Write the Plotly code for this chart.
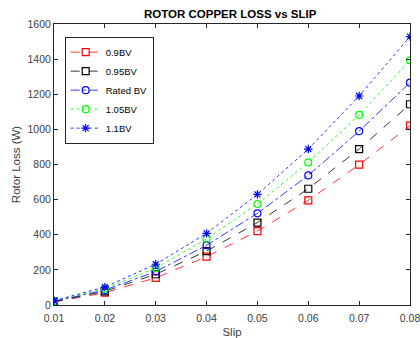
import plotly.graph_objects as go

slip = [0.01, 0.02, 0.03, 0.04, 0.05, 0.06, 0.07, 0.08]
loss_090 = [17, 70, 155, 275, 421, 596, 799, 1021]
loss_095 = [19, 78, 175, 307, 469, 662, 888, 1143]
loss_rated = [21, 85, 190, 340, 522, 738, 990, 1266]
loss_105 = [23, 93, 210, 376, 575, 812, 1082, 1393]
loss_110 = [25, 102, 232, 408, 630, 888, 1190, 1528]

series = [
    ("0.9BV", loss_090, "#ff0000", "dash", "square-open"),
    ("0.95BV", loss_095, "#000000", "dash", "square-open"),
    ("Rated BV", loss_rated, "#0000ff", "dashdot", "circle-open"),
    ("1.05BV", loss_105, "#00ff00", "dot", "circle-open"),
    ("1.1BV", loss_110, "#0000ff", "dot", "asterisk-open"),
]

fig = go.Figure()
for name, vals, col, dash, sym in series:
    fig.add_trace(go.Scatter(
        x=slip, y=vals, name=name, mode="lines+markers",
        line=dict(color=col, dash=dash, width=0.8),
        marker=dict(symbol=sym, size=7, color=col, line=dict(color=col, width=1.2)),
    ))

axis_common = dict(
    showgrid=False, zeroline=False, showline=True, linecolor="#262626", linewidth=1,
    mirror="ticks", ticks="inside", ticklen=4, tickcolor="#262626",
    tickfont=dict(size=10.5, color="#404040"), automargin=False,
    ticklabeloverflow="allow",
)

fig.update_layout(
    width=420, height=338,
    margin=dict(l=54, r=10, t=24, b=33),
    paper_bgcolor="white", plot_bgcolor="white",
    font=dict(family="Liberation Sans, Arial, sans-serif", color="#262626"),
    title=dict(text="<b>ROTOR COPPER LOSS vs SLIP</b>", x=0.548, xanchor="center",
               y=0.958, yanchor="middle", font=dict(size=11.5, color="#000000")),
    xaxis=dict(range=[0.01, 0.08], tickvals=slip,
               ticktext=["0.01", "0.02", "0.03", "0.04", "0.05", "0.06", "0.07", "0.08"],
               ticklabelstandoff=3,
               title=dict(text="Slip", font=dict(size=11.5, color="#404040"), standoff=6), **axis_common),
    yaxis=dict(range=[0, 1600], dtick=200,
               title=dict(text="Rotor Loss (W)", font=dict(size=11.5, color="#404040"), standoff=4), **axis_common),
    legend=dict(x=0.03, y=0.955, xanchor="left", yanchor="top",
                bgcolor="white", bordercolor="#262626", borderwidth=1,
                font=dict(size=9.5, color="#000000"), tracegroupgap=0, itemwidth=30),
    showlegend=True,
)

fig.write_html("out.html")
